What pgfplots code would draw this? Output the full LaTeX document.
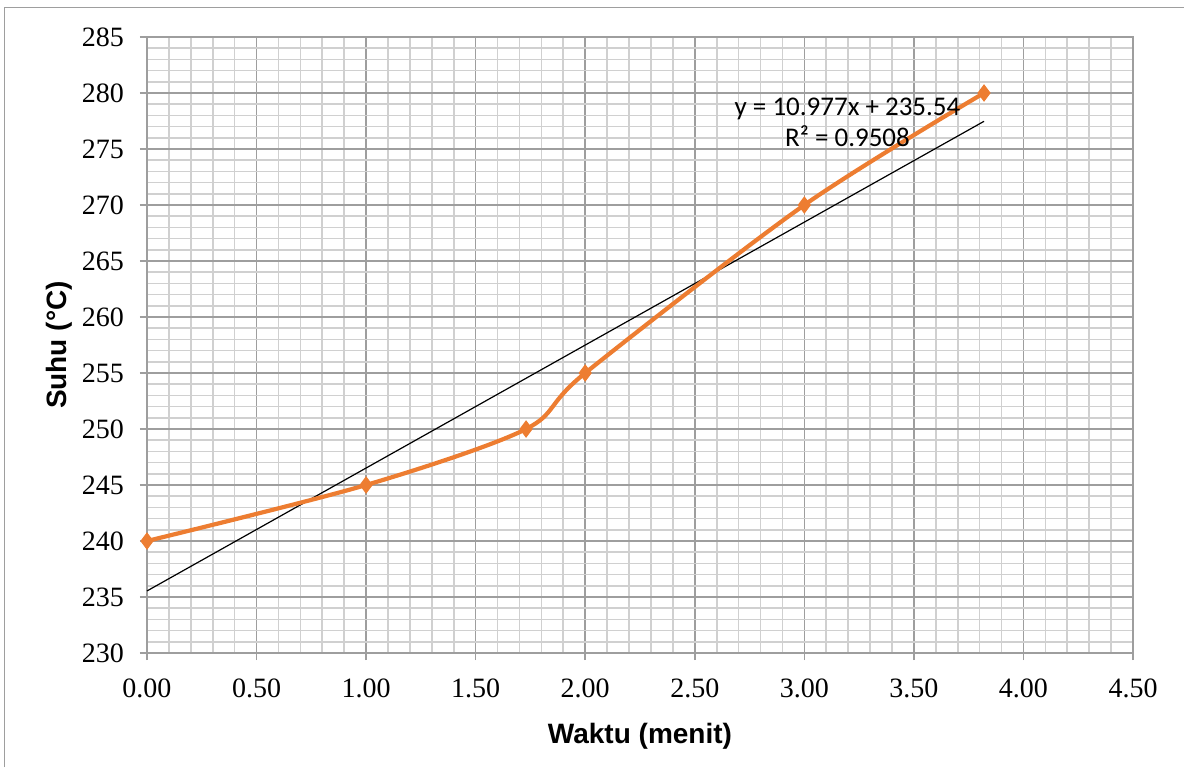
\documentclass[border=0pt]{standalone}
\usepackage{pgfplots}
\pgfplotsset{compat=1.18}
\usepackage{fontspec}
\setmainfont{Liberation Serif}
\newfontfamily\arial{Liberation Sans}
\newfontfamily\calibri{Carlito}
\definecolor{exorange}{HTML}{ED7D31}
\definecolor{majgrid}{HTML}{9E9E9E}
\definecolor{mingrid}{HTML}{D0D0D0}
\pgfplotstableread{
x y
0 240
1 245
1.73 250
2 255
3 270
3.82 280
}\datatable
\begin{document}
\begin{tikzpicture}
\useasboundingbox (-73.5pt,-57pt) rectangle (518.5pt,326.5pt);
\draw[color=majgrid, line width=0.5pt] (-71pt,-57pt) -- (-71pt,322.5pt) -- (518.5pt,322.5pt);
\begin{axis}[
  at={(0pt,0pt)}, anchor=origin,
  scale only axis, width=493pt, height=308pt,
  xmin=0, xmax=4.5, ymin=230, ymax=285,
  xtick={0,0.5,...,4.5}, ytick={230,235,...,285},
  minor xtick={0.1,0.2,0.3,0.4,0.6,0.7,0.8,0.9,1.1,1.2,1.3,1.4,1.6,1.7,1.8,1.9,2.1,2.2,2.3,2.4,2.6,2.7,2.8,2.9,3.1,3.2,3.3,3.4,3.6,3.7,3.8,3.9,4.1,4.2,4.3,4.4},
  minor ytick={231,232,233,234,236,237,238,239,241,242,243,244,246,247,248,249,251,252,253,254,256,257,258,259,261,262,263,264,266,267,268,269,271,272,273,274,276,277,278,279,281,282,283,284},
  grid=both,
  major grid style={color=majgrid, line width=0.75pt},
  minor grid style={color=mingrid, line width=0.85pt},
  axis line style={color=majgrid, line width=0.75pt},
  tick align=outside, major tick length=3.5pt, minor tick length=0pt,
  tick style={color=majgrid, line width=0.75pt},
  xtick pos=bottom, ytick pos=left,
  /pgf/number format/assume math mode=true,
  tick label style={font=\fontsize{14}{16}\selectfont},
  xticklabel style={yshift=-6pt, /pgf/number format/.cd, fixed, fixed zerofill, precision=2},
  yticklabel style={xshift=-4.5pt, /pgf/number format/.cd, fixed, precision=0},
  xlabel={\arial\bfseries Waktu (menit)},
  ylabel={\arial\bfseries Suhu (°C)},
  label style={font=\fontsize{14}{16}\selectfont},
  xlabel style={yshift=-5.5pt},
  ylabel style={yshift=-2pt},
  clip=false,
]
\addplot[black, line width=0.6pt] table[x=x, y expr={10.977*\thisrow{x}+235.54}] {
x
0
3.82
};
\addplot[exorange, line width=2.1pt, smooth, tension=0.5, mark=diamond*, mark size=4pt, mark options={fill=exorange, draw=exorange, line width=0.5pt}] table[x=x, y=y] {\datatable};
\node[font=\calibri\fontsize{13.5}{15.5}\selectfont, align=center] at (axis cs:3.197,277.4) {y = 10.977x + 235.54\\R² = 0.9508};
\end{axis}
\end{tikzpicture}
\end{document}
